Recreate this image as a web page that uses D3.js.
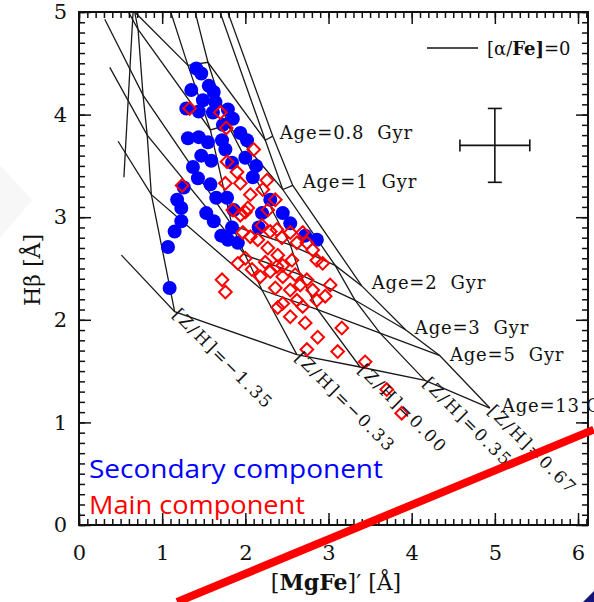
<!DOCTYPE html>
<html>
<head>
<meta charset="utf-8">
<script src="https://cdn.jsdelivr.net/npm/d3@7"></script>
<style>
  body { margin: 0; background: #fff; }
  svg { display: block; }
  .pre { white-space: pre; }
</style>
</head>
<body>
<svg id="chart" width="594" height="602"></svg>
<script>
// ---- axis ticks ----
const xTicks = [0, 1, 2, 3, 4, 5, 6];
const yTicks = [0, 1, 2, 3, 4, 5];

// ---- SSP model grid, [alpha/Fe]=0 : nodes at [Z/H] = -2.25, -1.35, -0.33, 0.00, 0.35, 0.67 ----
const metallicities = [-2.25, -1.35, -0.33, 0.00, 0.35, 0.67];
const ages = [0.5, 0.8, 1, 2, 3, 5, 13];
const gridMgFe = [
  [0.25, 0.66, 0.98, 1.30, 1.56, 1.65],   // 0.5 Gyr
  [0.23, 0.67, 1.31, 1.55, 2.24, 2.33],   // 0.8 Gyr
  [0.25, 0.71, 1.58, 1.79, 2.45, 2.57],   // 1 Gyr
  [0.31, 0.77, 1.84, 2.54, 3.08, 3.40],   // 2 Gyr
  [0.37, 0.82, 2.00, 2.66, 3.32, 3.93],   // 3 Gyr
  [0.47, 0.87, 2.20, 2.87, 3.62, 4.34],   // 5 Gyr
  [0.51, 1.15, 2.62, 3.38, 4.16, 4.94]    // 13 Gyr
];
const gridHbeta = [
  [6.10, 5.31, 5.31, 5.31, 5.31, 5.31],
  [5.70, 5.00, 4.48, 4.51, 3.75, 3.79],
  [5.51, 4.83, 3.85, 3.90, 3.27, 3.31],
  [4.93, 4.19, 2.92, 2.73, 2.53, 2.33],
  [4.46, 3.80, 2.63, 2.44, 2.19, 1.90],
  [3.74, 3.22, 2.29, 2.10, 1.87, 1.65],
  [2.63, 2.08, 1.66, 1.54, 1.41, 1.14]
];
// metal-poor young track
const metalPoorTrack = [[0.65, 5.0], [0.54, 3.39]];
const ageLabels = ["", "Age=0.8  Gyr", "Age=1  Gyr", "Age=2  Gyr", "Age=3  Gyr", "Age=5  Gyr", "Age=13 Gyr"];
const zLabels = ["[Z/H]=\u22121.35", "[Z/H]=\u22120.33", "[Z/H]=0.00", "[Z/H]=0.35", "[Z/H]=0.67"];

// ---- measurements ----
const secondaryMgFe = [1.41, 1.47, 1.56, 1.62, 1.35, 1.49, 1.64, 1.29, 1.44, 1.61, 1.79, 1.85, 1.73,
  1.31, 1.44, 1.55, 1.72, 1.94, 2.02, 1.47, 1.59, 1.76, 1.84, 2.00, 2.13, 2.09, 1.37, 1.43, 1.58,
  1.26, 1.18, 1.65, 1.78, 1.86, 1.23, 1.23, 1.15, 1.07, 1.09, 1.53, 1.62, 1.71, 1.79, 1.91, 1.84,
  2.20, 2.30, 2.45, 2.54, 2.86, 2.72, 2.16];
const secondaryHbeta = [4.45, 4.40, 4.28, 4.22, 4.24, 4.14, 4.12, 4.06, 4.03, 4.02, 4.05, 3.96, 3.90,
  3.77, 3.78, 3.73, 3.75, 3.82, 3.75, 3.60, 3.55, 3.66, 3.53, 3.58, 3.50, 3.39, 3.49, 3.38, 3.32,
  3.29, 3.17, 3.19, 3.19, 3.07, 3.09, 2.96, 2.86, 2.71, 2.31, 3.04, 2.96, 2.82, 2.78, 2.75, 2.90,
  3.04, 3.17, 3.04, 2.94, 2.78, 2.82, 2.90];

const mainMgFe = [1.33, 1.70, 1.77, 2.10, 1.78, 1.90, 1.76, 1.94, 2.26, 1.24, 2.21, 2.06, 2.36, 2.27,
  2.03, 1.94, 1.85, 2.00, 2.20, 2.30, 2.44, 2.15, 1.97, 2.06, 2.38, 2.54, 2.62, 2.69, 2.74, 2.81,
  2.86, 2.93, 1.91, 1.72, 1.76, 2.00, 2.08, 2.24, 2.30, 2.39, 2.45, 2.56, 2.38, 2.45, 2.54, 2.62,
  2.69, 2.74, 2.81, 2.86, 2.60, 2.36, 2.66, 2.45, 2.54, 2.72, 2.87, 2.74, 2.96, 3.02, 3.16, 3.11,
  3.44, 3.70, 3.88, 2.18, 2.39, 2.27];
const mainHbeta = [4.06, 4.02, 3.87, 3.66, 3.54, 3.44, 3.33, 3.33, 3.36, 3.31, 3.27, 3.22, 3.17, 3.07,
  3.09, 3.02, 3.07, 3.05, 2.92, 2.86, 2.80, 2.78, 2.85, 2.81, 2.88, 2.85, 2.75, 2.85, 2.75, 2.68,
  2.58, 2.55, 2.55, 2.39, 2.27, 2.60, 2.49, 2.56, 2.47, 2.63, 2.53, 2.58, 2.52, 2.42, 2.29, 2.19,
  2.13, 2.39, 2.29, 2.19, 2.44, 2.31, 2.34, 2.16, 2.03, 1.97, 1.83, 1.71, 2.23, 2.34, 1.92, 1.69,
  1.59, 1.32, 1.09, 2.42, 2.12, 2.70];

// typical uncertainty
const errCenter = [5.0, 3.70];
const errHalf = [0.42, 0.36];

// highlighted trend line, drawn across the panel
const trendLine = [[1.18, -0.75], [6.19, 0.93]];

// ---- layout ----
const svg = d3.select("#chart");
const W = 594, H = 602;
const m = { left: 79, right: 588, top: 12, bottom: 525 };
const x = d3.scaleLinear().domain([0, 6.12]).range([m.left, m.right]);
const y = d3.scaleLinear().domain([0, 5]).range([m.bottom, m.top]);
const serif = "'DejaVu Serif', 'Liberation Serif', serif";

svg.append("rect").attr("width", W).attr("height", H).attr("fill", "#fff");
// faint slide decoration at the left edge and the corner mark
svg.append("polygon").attr("points", "0,165 32,200 0,238").attr("fill", "#f7f7f7");
svg.append("polygon").attr("points", "583,602 594,591 594,602").attr("fill", "#14147a");

svg.append("clipPath").attr("id", "plotClip")
  .append("rect").attr("x", m.left).attr("y", m.top)
  .attr("width", m.right - m.left).attr("height", m.bottom - m.top);

const plot = svg.append("g").attr("clip-path", "url(#plotClip)");

// model grid lines
const line = d3.line().x(d => x(d[0])).y(d => y(d[1]));
const ageTracks = ages.map((a, i) => gridMgFe[i].map((v, j) => [v, gridHbeta[i][j]]));
const zTracks = metallicities.map((z, j) => ages.map((a, i) => [gridMgFe[i][j], gridHbeta[i][j]]));
const gridStroke = g => g.attr("fill", "none").attr("stroke", "#1a1a1a").attr("stroke-width", 1.3);

plot.selectAll("path.age").data(ageTracks).join("path")
  .attr("class", "age").attr("d", line).call(gridStroke);
plot.selectAll("path.zline").data(zTracks.slice(1)).join("path")
  .attr("class", "zline").attr("d", line).call(gridStroke);
plot.append("path").datum(metalPoorTrack).attr("d", line).call(gridStroke);

// secondary component: filled blue circles
const secondary = secondaryMgFe.map((v, i) => [v, secondaryHbeta[i]]);
plot.selectAll("circle.sec").data(secondary).join("circle")
  .attr("class", "sec")
  .attr("cx", d => x(d[0])).attr("cy", d => y(d[1])).attr("r", 7)
  .attr("fill", "#0000ff");

// main component: open red diamonds
const main = mainMgFe.map((v, i) => [v, mainHbeta[i]]);
const diamond = d3.symbol().type(d3.symbolSquare).size(80);
plot.selectAll("path.main").data(main).join("path")
  .attr("class", "main")
  .attr("transform", d => `translate(${x(d[0])},${y(d[1])}) rotate(45)`)
  .attr("d", diamond)
  .attr("fill", "none").attr("stroke", "#ff0000").attr("stroke-width", 2);

// age labels at the metal-rich end of each age track
const ageLab = svg.append("g").attr("font-family", serif).attr("font-size", 18)
  .attr("letter-spacing", 0.8).attr("fill", "#111");
const ageOffsets = [[0, 0], [7, 3], [10, 3], [10, 3], [9, 4], [10, 5], [12, 4]];
ageTracks.forEach((t, i) => {
  if (!ageLabels[i]) return;
  const p = t[t.length - 1];
  ageLab.append("text").attr("class", "pre")
    .attr("x", x(p[0]) + ageOffsets[i][0]).attr("y", y(p[1]) + ageOffsets[i][1])
    .text(ageLabels[i]);
});

// metallicity labels at the old end of each metallicity track, rotated
const zLab = svg.append("g").attr("font-family", serif).attr("font-size", 17)
  .attr("letter-spacing", 2).attr("fill", "#111");
zTracks.slice(1).forEach((t, j) => {
  const p = t[t.length - 1];
  zLab.append("text")
    .attr("transform", `translate(${x(p[0]) - 3},${y(p[1]) + 4}) rotate(45)`)
    .text(zLabels[j]);
});

// error bar cross
const eb = svg.append("g").attr("stroke", "#111").attr("stroke-width", 1.6);
const cx = x(errCenter[0]), cy = y(errCenter[1]);
const x0 = x(errCenter[0] - errHalf[0]), x1 = x(errCenter[0] + errHalf[0]);
const y0 = y(errCenter[1] - errHalf[1]), y1 = y(errCenter[1] + errHalf[1]);
eb.append("line").attr("x1", x0).attr("x2", x1).attr("y1", cy).attr("y2", cy);
eb.append("line").attr("x1", cx).attr("x2", cx).attr("y1", y0).attr("y2", y1);
eb.append("line").attr("x1", x0).attr("x2", x0).attr("y1", cy - 6).attr("y2", cy + 6);
eb.append("line").attr("x1", x1).attr("x2", x1).attr("y1", cy - 6).attr("y2", cy + 6);
eb.append("line").attr("x1", cx - 7).attr("x2", cx + 7).attr("y1", y0).attr("y2", y0);
eb.append("line").attr("x1", cx - 7).attr("x2", cx + 7).attr("y1", y1).attr("y2", y1);

// model key
svg.append("line").attr("x1", 427).attr("x2", 478).attr("y1", 48).attr("y2", 48)
  .attr("stroke", "#111").attr("stroke-width", 1.4);
const key = svg.append("text").attr("x", 487).attr("y", 55)
  .attr("font-family", serif).attr("font-size", 18).attr("fill", "#111");
key.append("tspan").text("[\u03B1/");
key.append("tspan").attr("font-weight", "bold").text("Fe");
key.append("tspan").attr("font-weight", "bold").text("]");
key.append("tspan").text("=0");

// ---- axes ----
const axes = svg.append("g");
function minorTicks(dom, step) {
  const out = [];
  for (let v = dom[0]; v <= dom[1] + 1e-9; v += step) out.push(+v.toFixed(2));
  return out;
}
const xMinor = minorTicks([0, 6.1], 0.1);
const yMinor = minorTicks([0, 5], 0.1);

function styleAxis(g) {
  g.select(".domain").remove();
  g.selectAll("line").attr("stroke", "#111").attr("stroke-width", 1.5);
  g.selectAll("text").attr("font-family", serif).attr("font-size", 21).attr("fill", "#111");
}
axes.append("g").attr("transform", `translate(0,${m.bottom})`)
  .call(d3.axisBottom(x).tickValues(xMinor).tickSize(-6).tickFormat("")).call(styleAxis);
axes.append("g").attr("transform", `translate(0,${m.bottom})`)
  .call(d3.axisBottom(x).tickValues(xTicks).tickSize(-12).tickPadding(20).tickFormat(d3.format("d")))
  .call(styleAxis);
axes.append("g").attr("transform", `translate(0,${m.top})`)
  .call(d3.axisTop(x).tickValues(xMinor).tickSize(-6).tickFormat("")).call(styleAxis);
axes.append("g").attr("transform", `translate(0,${m.top})`)
  .call(d3.axisTop(x).tickValues(xTicks).tickSize(-12).tickFormat("")).call(styleAxis);
axes.append("g").attr("transform", `translate(${m.left},0)`)
  .call(d3.axisLeft(y).tickValues(yMinor).tickSize(-6).tickFormat("")).call(styleAxis);
axes.append("g").attr("transform", `translate(${m.left},0)`)
  .call(d3.axisLeft(y).tickValues(yTicks).tickSize(-12).tickPadding(12).tickFormat(d3.format("d")))
  .call(styleAxis);
axes.append("g").attr("transform", `translate(${m.right},0)`)
  .call(d3.axisRight(y).tickValues(yMinor).tickSize(-6).tickFormat("")).call(styleAxis);
axes.append("g").attr("transform", `translate(${m.right},0)`)
  .call(d3.axisRight(y).tickValues(yTicks).tickSize(-12).tickFormat("")).call(styleAxis);

axes.append("rect").attr("x", m.left).attr("y", m.top)
  .attr("width", m.right - m.left).attr("height", m.bottom - m.top)
  .attr("fill", "none").attr("stroke", "#111").attr("stroke-width", 2);

// axis titles
const xt = svg.append("text").attr("x", 336).attr("y", 590).attr("text-anchor", "middle")
  .attr("font-family", serif).attr("font-size", 22).attr("fill", "#111");
xt.append("tspan").text("[");
xt.append("tspan").attr("font-weight", "bold").text("MgFe");
xt.append("tspan").text("]\u2032 [\u00C5]");

const yt = svg.append("text").attr("transform", "translate(40,270) rotate(-90)")
  .attr("text-anchor", "middle")
  .attr("font-family", serif).attr("font-size", 22).attr("fill", "#111");
yt.append("tspan").text("H\u03B2 [\u00C5]");

// component legend
svg.append("text").attr("x", 89).attr("y", 478)
  .attr("font-family", "'Comic Sans MS', 'Open Sans', sans-serif").attr("font-size", 26)
  .attr("textLength", 294).attr("lengthAdjust", "spacingAndGlyphs")
  .attr("fill", "#0000ff").text("Secondary component");
svg.append("text").attr("x", 89).attr("y", 514)
  .attr("font-family", "'Comic Sans MS', 'Open Sans', sans-serif").attr("font-size", 26)
  .attr("textLength", 216).attr("lengthAdjust", "spacingAndGlyphs")
  .attr("fill", "#ff0000").text("Main component");

// trend line over everything
svg.append("line")
  .attr("x1", x(trendLine[0][0])).attr("y1", y(trendLine[0][1]))
  .attr("x2", x(trendLine[1][0])).attr("y2", y(trendLine[1][1]))
  .attr("stroke", "#ff0000").attr("stroke-width", 8);
</script>
</body>
</html>
